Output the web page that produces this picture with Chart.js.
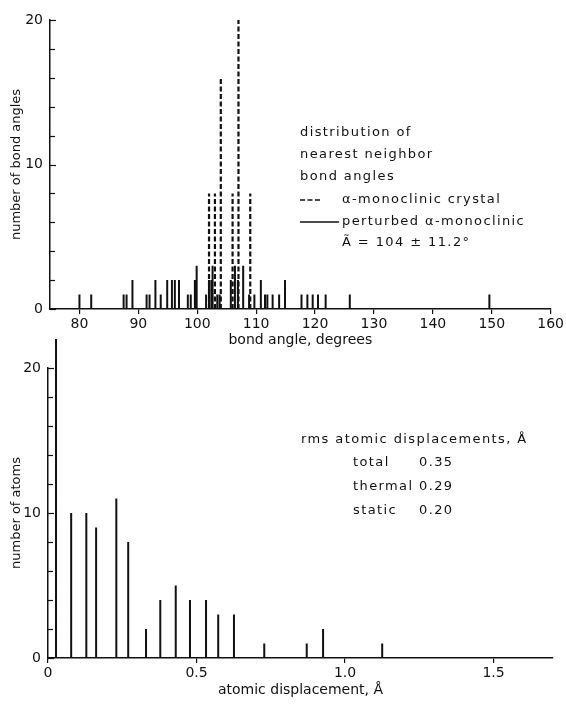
<!DOCTYPE html>
<html>
<head>
<meta charset="utf-8">
<script src="https://cdn.jsdelivr.net/npm/chart.js@4"></script>
<style>
  html, body { margin: 0; padding: 0; background: #fff; }
  #wrap { position: relative; width: 566px; height: 705px; }
  canvas { position: absolute; left: 0; }
  #angleChart { top: 0; }
  #dispChart { top: 325px; }
</style>
</head>
<body>
<div id="wrap">
  <canvas id="angleChart" width="566" height="350"></canvas>
  <canvas id="dispChart" width="566" height="380"></canvas>
</div>
<script>
// top panel: nearest neighbor bond angles
const crystalAngles = [102, 103, 104, 106, 107, 109];
const crystalCounts = [8, 8, 16, 8, 20, 8];
const perturbedAngles = [80, 82, 87.5, 88, 89, 91.4, 91.9, 92.9, 93.8, 94.9, 95.7, 96.2, 96.9,
  98.4, 98.9, 99.6, 99.9, 101.5, 102.0, 102.4, 102.6, 103.4, 103.8, 105.7, 106.4, 106.9, 107.8,
  108.8, 109.7, 110.8, 111.5, 111.9, 112.8, 113.9, 114.9, 117.7, 118.7, 119.6, 120.5, 121.8,
  125.9, 149.6];
const perturbedCounts = [1, 1, 1, 1, 2, 1, 1, 2, 1, 2, 2, 2, 2,
  1, 1, 2, 3, 1, 2, 2, 3, 1, 1, 2, 3, 2, 3,
  1, 1, 2, 1, 1, 1, 1, 2, 1, 1, 1, 1, 1,
  1, 1];
const angleTicks = [80, 90, 100, 110, 120, 130, 140, 150, 160];

// bottom panel: atomic displacements
const displacements = [0.027, 0.078, 0.129, 0.162, 0.230, 0.270, 0.330, 0.378, 0.430, 0.478,
  0.532, 0.573, 0.626, 0.728, 0.871, 0.926, 1.125];
const atomCounts = [22, 10, 10, 9, 11, 8, 2, 4, 5, 4, 4, 3, 3, 1, 1, 2, 1];
const dispTicks = [0, 0.5, 1.0, 1.5];

const countTicks = [0, 10, 20];

const INK = '#111';
const FONT = "'DejaVu Sans', sans-serif";

// vertical sticks from 0 up to the count, separated by gaps
function sticks(xs, ns) {
  const pts = [];
  xs.forEach((x, i) => {
    pts.push({ x: x, y: 0 }, { x: x, y: ns[i] }, { x: x, y: null });
  });
  return pts;
}

// small tick marks on the inside of the y axis, every 2 counts
const innerTicks = {
  id: 'innerTicks',
  afterDraw(chart) {
    const ctx = chart.ctx;
    const ys = chart.scales.y;
    const x0 = chart.chartArea.left;
    ctx.save();
    ctx.strokeStyle = INK;
    ctx.lineWidth = 1.2;
    for (let v = 0; v <= ys.max; v += 2) {
      const py = Math.round(ys.getPixelForValue(v)) + 0.5;
      ctx.beginPath();
      ctx.moveTo(x0, py);
      ctx.lineTo(x0 + (v % 10 === 0 ? 6 : 5), py);
      ctx.stroke();
    }
    ctx.restore();
  }
};

function textPlugin(id, draw) {
  return {
    id: id,
    afterDraw(chart) {
      const ctx = chart.ctx;
      ctx.save();
      ctx.fillStyle = INK;
      ctx.strokeStyle = INK;
      ctx.font = '13px ' + FONT;
      ctx.letterSpacing = '1.4px';
      ctx.textBaseline = 'middle';
      ctx.textAlign = 'left';
      draw(ctx);
      ctx.restore();
    }
  };
}

const angleNotes = textPlugin('angleNotes', (ctx) => {
  ctx.fillText('distribution of', 300, 133);
  ctx.fillText('nearest neighbor', 300, 155);
  ctx.fillText('bond angles', 300, 177);
  ctx.lineWidth = 1.6;
  ctx.setLineDash([5, 2.5]);
  ctx.beginPath(); ctx.moveTo(300, 200); ctx.lineTo(320, 200); ctx.stroke();
  ctx.setLineDash([]);
  ctx.beginPath(); ctx.moveTo(300, 222); ctx.lineTo(339, 222); ctx.stroke();
  ctx.fillText('α-monoclinic crystal', 342, 200);
  ctx.fillText('perturbed α-monoclinic', 342, 222);
  ctx.fillText('Ã = 104 ± 11.2°', 342, 243);
});

const dispNotes = textPlugin('dispNotes', (ctx) => {
  ctx.fillText('rms atomic displacements, Å', 301, 115);
  ctx.fillText('total', 353, 138);
  ctx.fillText('0.35', 419, 138);
  ctx.fillText('thermal', 353, 162);
  ctx.fillText('0.29', 419, 162);
  ctx.fillText('static', 353, 186);
  ctx.fillText('0.20', 419, 186);
});

function yScale(title, width) {
  return {
    type: 'linear',
    min: 0,
    max: 20,
    afterBuildTicks: (s) => { s.ticks = countTicks.map(v => ({ value: v })); },
    afterFit: (s) => { s.width = width; },
    grid: { drawOnChartArea: false, drawTicks: false },
    border: { display: true, color: INK, width: 1.5 },
    ticks: { padding: 7, color: INK, font: { family: FONT, size: 14 } },
    title: { display: true, text: title, color: INK, font: { family: FONT, size: 13 }, padding: { top: 9, bottom: 0 } }
  };
}

function xScale(min, max, tickList, title, height, titlePad, fmt) {
  return {
    type: 'linear',
    min: min,
    max: max,
    afterBuildTicks: (s) => { s.ticks = tickList.map(v => ({ value: v })); },
    afterFit: (s) => { s.height = height; },
    grid: { drawOnChartArea: false, drawTicks: true, tickLength: 5, color: INK, lineWidth: 1.2 },
    border: { display: true, color: INK, width: 1.5 },
    ticks: { padding: 2, color: INK, maxRotation: 0, autoSkip: false, font: { family: FONT, size: 14 }, callback: fmt },
    title: { display: true, text: title, color: INK, font: { family: FONT, size: 14 }, padding: { top: 0, bottom: titlePad } }
  };
}

new Chart(document.getElementById('angleChart').getContext('2d'), {
  type: 'line',
  data: {
    datasets: [
      {
        label: 'α-monoclinic crystal',
        data: sticks(crystalAngles, crystalCounts),
        borderColor: INK,
        borderWidth: 2.2,
        borderDash: [5, 2.5],
        borderCapStyle: 'butt',
        pointRadius: 0,
        spanGaps: false,
        clip: false
      },
      {
        label: 'perturbed α-monoclinic',
        data: sticks(perturbedAngles, perturbedCounts),
        borderColor: INK,
        borderWidth: 2,
        borderCapStyle: 'butt',
        pointRadius: 0,
        spanGaps: false,
        clip: false
      }
    ]
  },
  options: {
    responsive: false,
    animation: false,
    layout: { padding: { top: 20, right: 13, left: 0, bottom: 0 } },
    plugins: { legend: { display: false }, tooltip: { enabled: false } },
    scales: {
      x: xScale(75, 160, angleTicks, 'bond angle, degrees', 41, 1, (v) => String(v)),
      y: yScale('number of bond angles', 50)
    }
  },
  plugins: [innerTicks, angleNotes]
});

new Chart(document.getElementById('dispChart').getContext('2d'), {
  type: 'line',
  data: {
    datasets: [
      {
        label: 'atoms',
        data: sticks(displacements, atomCounts),
        borderColor: INK,
        borderWidth: 2,
        borderCapStyle: 'butt',
        pointRadius: 0,
        spanGaps: false,
        clip: false
      }
    ]
  },
  options: {
    responsive: false,
    animation: false,
    layout: { padding: { top: 43, right: 13, left: 0, bottom: 0 } },
    plugins: { legend: { display: false }, tooltip: { enabled: false } },
    scales: {
      x: xScale(0, 1.7, dispTicks, 'atomic displacement, Å', 47, 6, (v) => (v === 0 ? '0' : v.toFixed(1))),
      y: yScale('number of atoms', 48)
    }
  },
  plugins: [innerTicks, dispNotes]
});
</script>
</body>
</html>
